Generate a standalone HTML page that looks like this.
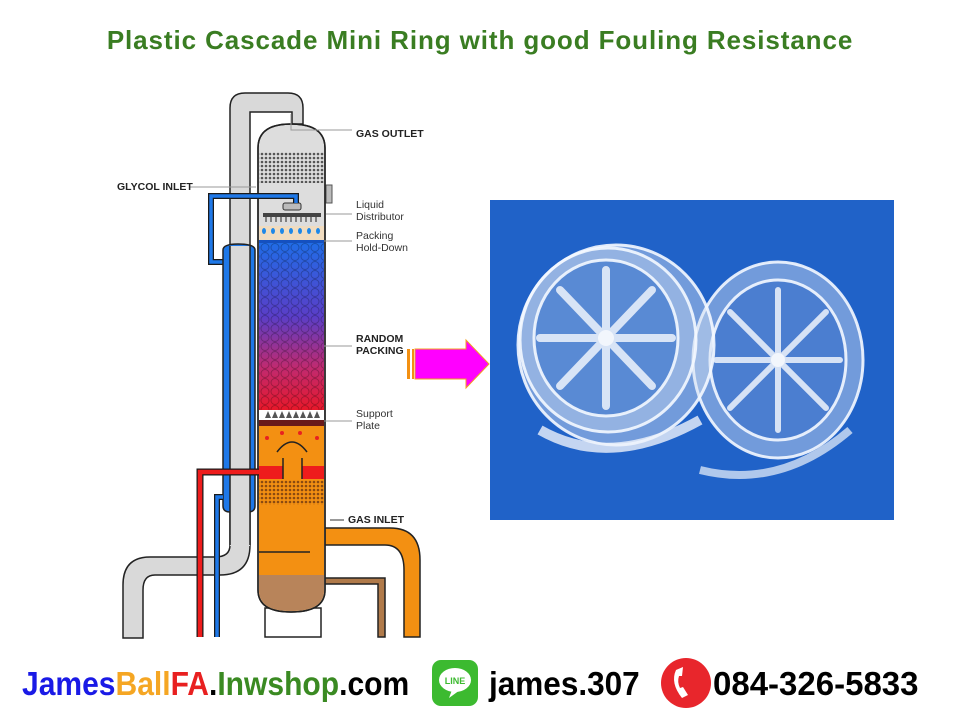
<!DOCTYPE html>
<html><head><meta charset="utf-8"><style>
html,body{margin:0;padding:0;background:#fff;width:960px;height:720px;overflow:hidden;font-family:"Liberation Sans",sans-serif}
.title{position:absolute;left:0;width:960px;top:25px;text-align:center;color:#3a7d22;font-weight:bold;font-size:26px;letter-spacing:0.9px}
.lbl{position:absolute;font-family:"Liberation Sans Narrow","Liberation Sans",sans-serif;font-size:10.5px;color:#333;line-height:12px}
.b{font-weight:bold;color:#222}
.foot{position:absolute;top:664px;font-family:"Liberation Sans Narrow","Liberation Sans",sans-serif;font-weight:bold;font-size:33px;line-height:40px;white-space:nowrap}
</style></head><body>
<div class="title">Plastic Cascade Mini Ring with good Fouling Resistance</div>

<svg width="960" height="720" style="position:absolute;left:0;top:0">
<defs>
<linearGradient id="pk" x1="0" y1="0" x2="0" y2="1">
<stop offset="0" stop-color="#1e6ee8"/><stop offset="0.45" stop-color="#5a3ec8"/><stop offset="0.75" stop-color="#c02a70"/><stop offset="1" stop-color="#e8182a"/></linearGradient>
<pattern id="mesh" width="4" height="4" patternUnits="userSpaceOnUse"><rect width="4" height="4" fill="#ddd"/><circle cx="2" cy="2" r="1.3" fill="#555"/></pattern>
<pattern id="mesh2" width="4" height="4" patternUnits="userSpaceOnUse"><rect width="4" height="4" fill="#f39012"/><circle cx="2" cy="2" r="1.3" fill="#8a4a10"/></pattern>
<pattern id="bub" width="10" height="9" patternUnits="userSpaceOnUse"><circle cx="5" cy="4.5" r="4" fill="none" stroke="#000" stroke-opacity="0.25" stroke-width="1"/></pattern>
</defs>
<g stroke="#222" stroke-width="1.5">
<path d="M230,545 V108 Q230,93 245,93 H288 Q303,93 303,108 V124 H292 V112 H250 V545 Q250,575 220,575 H155 Q143,575 143,590 V638 H123 V585 Q123,557 150,557 H215 Q230,557 230,545 Z" fill="#d9d9d9"/>
<path d="M324,528 H390 Q420,528 420,560 V637 H404 V570 Q404,545 385,545 H324 Z" fill="#f39012"/>
<path d="M324,578 H385 V637 H378 V584 H324 Z" fill="#b07a4a"/>
<rect x="265" y="608" width="56" height="29" fill="#fff"/>
<path d="M258,148 Q258,124 291,124 Q325,124 325,148 V590 Q325,612 291,612 Q258,612 258,590 Z" fill="#ddd"/>
</g>
<rect x="259" y="152" width="65" height="31" fill="url(#mesh)"/>
<rect x="259" y="226" width="65" height="14" fill="#f0dcc0"/>
<rect x="259" y="240" width="65" height="170" fill="url(#pk)"/>
<rect x="259" y="240" width="65" height="170" fill="url(#bub)"/>
<rect x="259" y="240" width="65" height="3" fill="#1450c0"/>
<rect x="259" y="410" width="65" height="10" fill="#fff"/>
<g fill="#555"><path d="M265,418l3,-7l3,7zM272,418l3,-7l3,7zM279,418l3,-7l3,7zM286,418l3,-7l3,7zM293,418l3,-7l3,7zM300,418l3,-7l3,7zM307,418l3,-7l3,7zM314,418l3,-7l3,7z"/></g>
<rect x="259" y="420" width="65" height="6" fill="#6a1a1a"/>
<path d="M259,426 H324 V590 Q324,611 291,611 Q259,611 259,590 Z" fill="#f39012"/>
<path d="M259,575 H324 V590 Q324,611 291,611 Q259,611 259,590 Z" fill="#b8845a"/>
<rect x="259" y="466" width="65" height="13" fill="#ee1c1c"/>
<rect x="283" y="458" width="19" height="21" fill="#f39012"/>
<path d="M283,479 V458 M302,479 V458 M277,452 Q292,432 307,452" stroke="#222" stroke-width="1.5" fill="none"/>
<rect x="259" y="480" width="65" height="25" fill="url(#mesh2)"/>
<line x1="259" y1="552" x2="310" y2="552" stroke="#222" stroke-width="1.5"/>
<g fill="#e82020"><circle cx="267" cy="438" r="2"/><circle cx="282" cy="433" r="2"/><circle cx="300" cy="433" r="2"/><circle cx="317" cy="438" r="2"/></g>
<g fill="#1e88e8"><ellipse cx="264" cy="231" rx="2" ry="3"/><ellipse cx="273" cy="231" rx="2" ry="3"/><ellipse cx="282" cy="231" rx="2" ry="3"/><ellipse cx="291" cy="231" rx="2" ry="3"/><ellipse cx="300" cy="231" rx="2" ry="3"/><ellipse cx="309" cy="231" rx="2" ry="3"/><ellipse cx="318" cy="231" rx="2" ry="3"/></g>
<rect x="263" y="213" width="58" height="4" fill="#444"/>
<g stroke="#444" stroke-width="1.2"><path d="M266,217v5M271,217v5M276,217v5M281,217v5M286,217v5M291,217v5M296,217v5M301,217v5M306,217v5M311,217v5M316,217v5"/></g>
<rect x="283" y="203" width="18" height="7" rx="2" fill="#bbb" stroke="#333"/>
<rect x="326" y="185" width="6" height="18" fill="#bbb" stroke="#555"/>
<path d="M258,148 Q258,124 291,124 Q325,124 325,148 V590 Q325,612 291,612 Q258,612 258,590 Z" fill="none" stroke="#222" stroke-width="1.5"/>
<path d="M296,203 V196 H211 V262 H224" stroke="#1a1a1a" stroke-width="6" fill="none"/>
<path d="M296,203 V196 H211 V262 H224" stroke="#1e78e8" stroke-width="3.5" fill="none"/>
<path d="M223,250 Q223,244 238,244 Q255,244 255,250 V506 Q255,512 248,512 H230 Q223,512 223,506 Z" fill="#1e78e8" stroke="#222" stroke-width="1.5"/>
<rect x="230" y="246" width="20" height="300" fill="#d9d9d9"/>
<line x1="230" y1="246" x2="230" y2="545" stroke="#222" stroke-width="1.5"/><line x1="250" y1="246" x2="250" y2="545" stroke="#222" stroke-width="1.5"/>
<path d="M223,497 H217 V637" stroke="#1a1a1a" stroke-width="6" fill="none"/>
<path d="M223,497 H217 V637" stroke="#1e78e8" stroke-width="3.5" fill="none"/>
<path d="M259,472 H200 V637" stroke="#1a1a1a" stroke-width="7" fill="none"/>
<path d="M259,472 H200 V637" stroke="#ee1c1c" stroke-width="4.5" fill="none"/>
<g stroke="#999" stroke-width="1" fill="none">
<path d="M291,114 V130 H352"/><path d="M190,187 H256"/><path d="M326,214 H352"/><path d="M324,241 H352"/><path d="M324,346 H352"/><path d="M324,421 H352"/><path d="M330,520 H344" stroke="#333"/></g>
<rect x="407" y="349" width="3" height="30" fill="#f39012"/><rect x="412" y="349" width="2" height="30" fill="#f39012"/>
<path d="M415,349 H466 V340 L489,364 L466,388 V379 H415 Z" fill="#ff00ff" stroke="#f3a020" stroke-width="1"/>
<rect x="490" y="200" width="404" height="320" fill="#2062c8"/>
<g stroke="#f4f8ff" stroke-width="3" stroke-opacity="0.9">
<ellipse cx="778" cy="360" rx="85" ry="98" fill="#d8e2f2" fill-opacity="0.45"/>
<ellipse cx="778" cy="360" rx="68" ry="80" fill="#3a72cc" fill-opacity="0.7"/>
<ellipse cx="616" cy="345" rx="98" ry="100" fill="#d8e2f2" fill-opacity="0.45"/>
<ellipse cx="608" cy="340" rx="88" ry="92" fill="#d0dcf0" fill-opacity="0.35"/>
<ellipse cx="606" cy="338" rx="72" ry="78" fill="#3a74cc" fill-opacity="0.65"/>
</g>
<g stroke="#eef3fb" stroke-width="8" stroke-opacity="0.85" stroke-linecap="round">
<path d="M606,270 V406 M540,338 H672 M560,290 L652,386 M652,290 L560,386"/>
<path d="M778,290 V430 M716,360 H840 M730,312 L826,408 M826,312 L730,408" stroke-width="6"/>
</g>
<circle cx="606" cy="338" r="8" fill="#f2f6fc"/><circle cx="778" cy="360" r="7" fill="#f2f6fc"/>
<path d="M540,430 Q610,470 700,420" stroke="#eef3fb" stroke-width="10" fill="none" stroke-opacity="0.8"/>
<path d="M700,470 Q780,490 850,430" stroke="#eef3fb" stroke-width="8" fill="none" stroke-opacity="0.7"/>
<rect x="432" y="660" width="46" height="46" rx="9" fill="#3cba30"/>
<ellipse cx="455" cy="680" rx="16" ry="12" fill="#fff"/>
<path d="M452,690 L449,698 L460,690 Z" fill="#fff"/>
<text x="455" y="684" text-anchor="middle" font-family="Liberation Sans" font-weight="bold" font-size="9" fill="#3cba30">LINE</text>
<circle cx="686" cy="683" r="25" fill="#e8262c"/>
<path d="M676,670 q-6,13 6,28 l6,-3 -5,-8 -3,1 q-3,-6 -1,-12 l3,0 1,-9 z" fill="#fff"/>
</svg>

<div class="lbl b" style="left:356px;top:128px">GAS OUTLET</div>
<div class="lbl b" style="left:117px;top:181px">GLYCOL INLET</div>
<div class="lbl" style="left:356px;top:199px">Liquid<br>Distributor</div>
<div class="lbl" style="left:356px;top:230px">Packing<br>Hold-Down</div>
<div class="lbl b" style="left:356px;top:333px">RANDOM<br>PACKING</div>
<div class="lbl" style="left:356px;top:408px">Support<br>Plate</div>
<div class="lbl b" style="left:348px;top:514px">GAS INLET</div>

<div class="foot" style="left:22px;transform:scaleX(0.91);transform-origin:0 0"><span style="color:#1a1ae6">James</span><span style="color:#f5a623">Ball</span><span style="color:#e82020">FA</span><span style="color:#000">.</span><span style="color:#3a8a22">Inwshop</span><span style="color:#000">.com</span></div>
<div class="foot" style="left:489px;color:#000;transform:scaleX(0.955);transform-origin:0 0">james.307</div>
<div class="foot" style="left:713px;color:#000">084-326-5833</div>
</body></html>
